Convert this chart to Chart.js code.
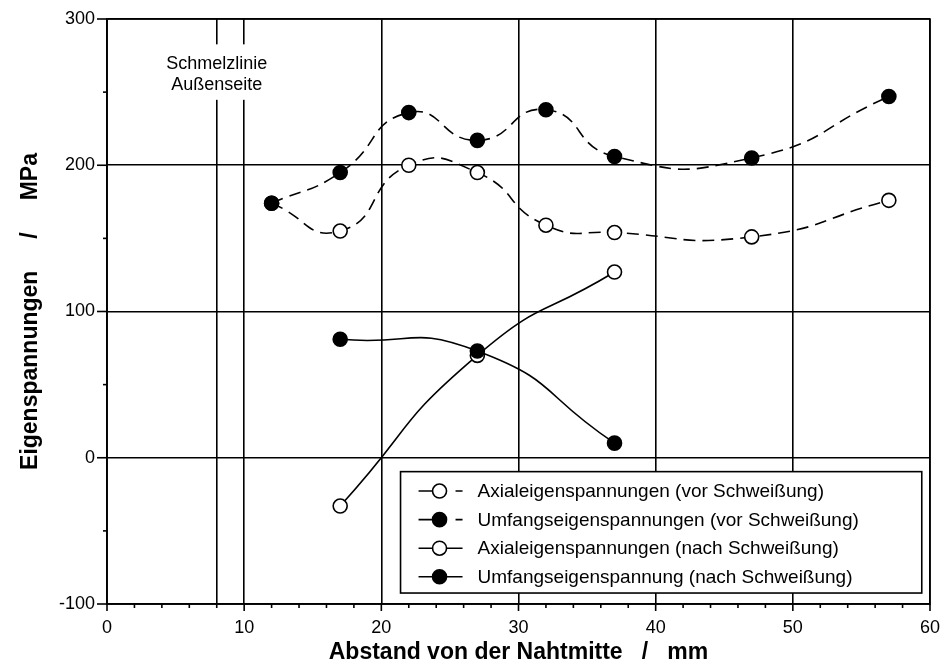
<!DOCTYPE html>
<html><head><meta charset="utf-8">
<script src="https://cdn.jsdelivr.net/npm/chart.js@4"></script>
<style>html,body{margin:0;padding:0;background:#fff}#wrap{width:944px;height:666px;position:relative}</style>
</head><body><div id="wrap"><canvas id="c"></canvas></div>
<script>
// ---- data ----
const seriesLabels = [
  'Axialeigenspannungen (vor Schweißung)',
  'Umfangseigenspannungen (vor Schweißung)',
  'Axialeigenspannungen (nach Schweißung)',
  'Umfangseigenspannung (nach Schweißung)'
];
const vorX = [12, 17, 22, 27, 32, 37, 47, 57];
const axialVorY = [174, 155, 200, 195, 159, 154, 151, 176];
const umfangVorY = [174, 195, 236, 217, 238, 206, 205, 247];
const nachX = [17, 27, 37];
const axialNachY = [-33, 70, 127];
const umfangNachY = [81, 73, 10];
const xTickLabels = [0, 10, 20, 30, 40, 50, 60];
const yTickLabels = [-100, 0, 100, 200, 300];
const schmelzlinieX = 8;
const schmelzlinieText = ['Schmelzlinie', 'Außenseite'];
const xTitle = 'Abstand von der Nahtmitte   /   mm';
const yTitle = 'Eigenspannungen     /     MPa';

const FONT = "'Liberation Sans', Arial, sans-serif";
const pts = (xs, ys) => xs.map((x, i) => ({x: x, y: ys[i]}));

const dashed = [12, 7];
const datasets = [
  {label: seriesLabels[0], data: pts(vorX, axialVorY), borderDash: dashed, open: true, order: 2},
  {label: seriesLabels[1], data: pts(vorX, umfangVorY), borderDash: dashed, open: false, order: 1},
  {label: seriesLabels[2], data: pts(nachX, axialNachY), borderDash: [], open: true, order: 2},
  {label: seriesLabels[3], data: pts(nachX, umfangNachY), borderDash: [], open: false, order: 1}
].map(d => Object.assign(d, {
  borderColor: '#000',
  borderWidth: 1.6,
  tension: 0.55,
  fill: false,
  pointStyle: 'circle',
  pointRadius: 7,
  pointBorderWidth: 1.6,
  pointBorderColor: '#000',
  pointBackgroundColor: d.open ? '#fff' : '#000'
}));

// tick marks, annotation and legend drawn with the library's scales
const decor = {
  id: 'decor',
  beforeDatasetsDraw(chart) {
    const {ctx} = chart, xs = chart.scales.x, ys = chart.scales.y;
    const cx = xs.getPixelForValue(schmelzlinieX);
    ctx.save();
    ctx.font = '18px ' + FONT;
    const w = Math.max(...schmelzlinieText.map(t => ctx.measureText(t).width));
    const y1 = ys.getPixelForValue(269), y2 = ys.getPixelForValue(255);
    ctx.fillStyle = '#fff';
    ctx.fillRect(cx - w / 2 - 2, y1 - 20, w + 4, (y2 - y1) + 35);
    ctx.fillStyle = '#000';
    ctx.textAlign = 'center';
    ctx.textBaseline = 'middle';
    ctx.fillText(schmelzlinieText[0], cx, y1);
    ctx.fillText(schmelzlinieText[1], cx, y2);
    ctx.restore();
  },
  afterDraw(chart) {
    const {ctx, chartArea: a} = chart, xs = chart.scales.x, ys = chart.scales.y;
    ctx.save();
    ctx.strokeStyle = '#000';
    ctx.lineWidth = 1.6;
    ctx.strokeRect(a.left, a.top, a.right - a.left, a.bottom - a.top);
    for (let v = xs.min; v <= xs.max; v += 2) {
      const p = xs.getPixelForValue(v), len = v % 10 === 0 ? 7 : 4;
      ctx.beginPath(); ctx.moveTo(p, a.bottom); ctx.lineTo(p, a.bottom + len); ctx.stroke();
    }
    for (let v = ys.min; v <= ys.max; v += 50) {
      const p = ys.getPixelForValue(v), len = v % 100 === 0 ? 10 : 4;
      ctx.beginPath(); ctx.moveTo(a.left, p); ctx.lineTo(a.left - len, p); ctx.stroke();
    }
    // legend box
    const bx = xs.getPixelForValue(21.4), bx2 = xs.getPixelForValue(59.4);
    const by = ys.getPixelForValue(-9.5), by2 = ys.getPixelForValue(-92.5);
    ctx.fillStyle = '#fff';
    ctx.fillRect(bx, by, bx2 - bx, by2 - by);
    ctx.strokeRect(bx, by, bx2 - bx, by2 - by);
    const rowH = (by2 - by) / 4.25;
    chart.data.datasets.forEach((d, i) => {
      const ry = by + rowH * (0.68 + i);
      const l0 = bx + 18, l1 = bx + 62, mx = bx + 39;
      ctx.setLineDash(d.borderDash.length ? [14, 23, 7, 50] : []);
      ctx.beginPath(); ctx.moveTo(l0, ry); ctx.lineTo(l1, ry); ctx.stroke();
      ctx.setLineDash([]);
      ctx.beginPath(); ctx.arc(mx, ry, 7, 0, Math.PI * 2);
      ctx.fillStyle = d.pointBackgroundColor; ctx.fill(); ctx.stroke();
      ctx.fillStyle = '#000';
      ctx.font = '19px ' + FONT;
      ctx.textAlign = 'left'; ctx.textBaseline = 'middle';
      ctx.fillText(d.label, bx + 77, ry + 1);
    });
    ctx.restore();
  }
};

new Chart(document.getElementById('c'), {
  type: 'line',
  data: {datasets},
  plugins: [decor],
  options: {
    responsive: true,
    maintainAspectRatio: false,
    animation: false,
    events: [],
    layout: {padding: {top: 19, right: 14, left: 0, bottom: 0}},
    plugins: {legend: {display: false}, tooltip: {enabled: false}},
    scales: {
      x: {
        type: 'linear', min: 0, max: 60,
        afterFit: s => { s.height = 62; s.paddingLeft = 0; s.paddingRight = 0; },
        ticks: {stepSize: 2, autoSkip: false, maxRotation: 0, padding: 13, color: '#000',
          font: {family: FONT, size: 18},
          callback: v => xTickLabels.includes(v) ? String(v) : ''},
        grid: {drawTicks: false, lineWidth: 1.6,
          color: c => (c.tick && (c.tick.value % 10 === 0 || c.tick.value === schmelzlinieX)) ? '#000' : 'rgba(0,0,0,0)'},
        border: {display: true, color: '#000', width: 1.6},
        title: {display: true, text: xTitle, color: '#000', font: {family: FONT, size: 23, weight: 'bold'}, padding: {top: 0, bottom: 0}}
      },
      y: {
        type: 'linear', min: -100, max: 300,
        afterFit: s => { s.width = 107; s.paddingTop = 0; s.paddingBottom = 0; },
        ticks: {stepSize: 50, autoSkip: false, padding: 12, color: '#000',
          font: {family: FONT, size: 18},
          callback: v => yTickLabels.includes(v) ? String(v) : ''},
        grid: {drawTicks: false, lineWidth: 1.6,
          color: c => (c.tick && c.tick.value % 100 === 0) ? '#000' : 'rgba(0,0,0,0)'},
        border: {display: true, color: '#000', width: 1.6},
        title: {display: true, text: yTitle, color: '#000', font: {family: FONT, size: 23, weight: 'bold'}, padding: {top: 17, bottom: 0}}
      }
    }
  }
});
</script></body></html>
